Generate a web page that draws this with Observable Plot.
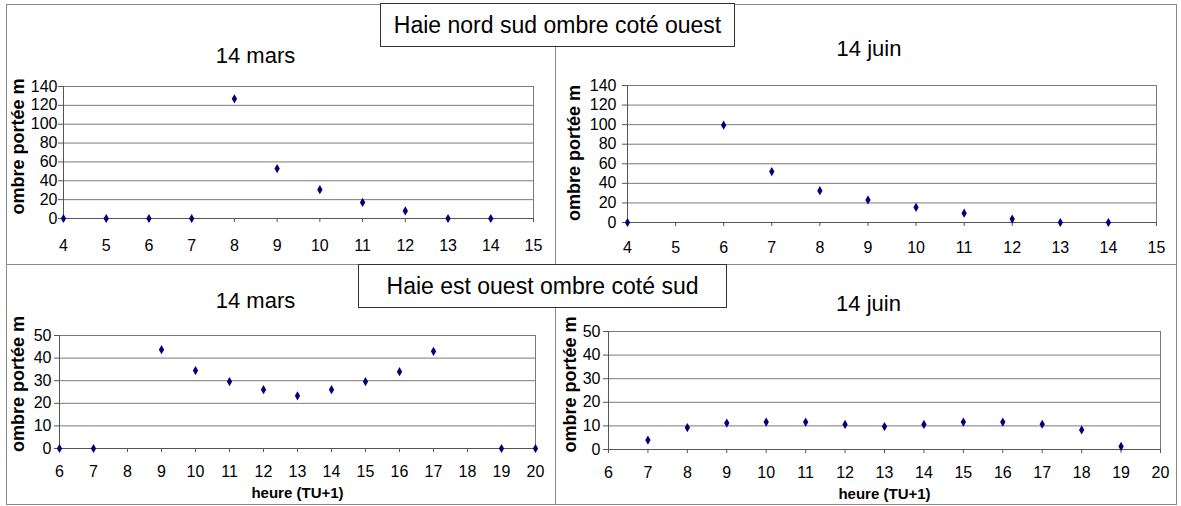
<!DOCTYPE html>
<html><head><meta charset="utf-8">
<script src="https://cdn.jsdelivr.net/npm/d3@7"></script>
<script src="https://cdn.jsdelivr.net/npm/@observablehq/plot@0.6"></script>
<style>
body{margin:0;background:#fff;}
#wrap{position:relative;width:1181px;height:506px;overflow:hidden;font-family:"Liberation Sans",Arial,sans-serif;background:#fff;}
.panel{position:absolute;}
.hline{position:absolute;height:1px;background:#8a8a8a;}
.vline{position:absolute;width:1px;background:#8a8a8a;}
.tbox{position:absolute;box-sizing:border-box;border:1px solid #333;background:#fff;font-size:23px;color:#000;display:flex;align-items:center;justify-content:center;white-space:nowrap;}
#wrap svg g[aria-label$="tick label"]{font-size:16px;}
</style></head>
<body><div id="wrap"></div>
<script>
// ---- data ----
const mainTitles = ["Haie nord sud ombre coté ouest", "Haie est ouest ombre coté sud"];
const panelTitles = ["14 mars", "14 juin", "14 mars", "14 juin"];
const yTitle = "ombre portée m";
const xTitle = "heure (TU+1)";

const hoursNSMars = [4, 5, 6, 7, 8, 9, 10, 11, 12, 13, 14];
const shadowNSMars = [0, 0, 0, 0, 127, 53, 30.5, 17, 8, 0, 0];
const hoursNSJuin = [4, 6, 7, 8, 9, 10, 11, 12, 13, 14];
const shadowNSJuin = [0, 99.5, 52, 32.5, 23, 15.5, 9.5, 3.5, 0, 0];
const hoursEOMars = [6, 7, 9, 10, 11, 12, 13, 14, 15, 16, 17, 19, 20];
const shadowEOMars = [0, 0, 43.7, 34.5, 29.6, 26, 23.3, 26, 29.6, 34, 43, 0, 0];
const hoursEOJuin = [7, 8, 9, 10, 11, 12, 13, 14, 15, 16, 17, 18, 19];
const shadowEOJuin = [4, 9.3, 11.2, 11.6, 11.6, 10.6, 9.7, 10.6, 11.6, 11.6, 10.7, 8.3, 1.3];

const xTicksNS = [4, 5, 6, 7, 8, 9, 10, 11, 12, 13, 14, 15];
const xTicksEO = [6, 7, 8, 9, 10, 11, 12, 13, 14, 15, 16, 17, 18, 19, 20];
const yTicksNS = [0, 20, 40, 60, 80, 100, 120, 140];
const yTicksEO = [0, 10, 20, 30, 40, 50];

const rows = (xs, ys) => xs.map((h, i) => ({h, v: ys[i]}));

const wrap = document.getElementById("wrap");
const FONT = '"Liberation Sans", Arial, sans-serif';

function panel(cfg) {
  const {left, top, width, height, mt, mr, mb, ml, xTicks, yTicks, data, title, titleDx, titleDy,
         yPad, xPad, yTitleDx, yTitleDy, showX} = cfg;
  const xd = [xTicks[0], xTicks[xTicks.length - 1]];
  const yd = [yTicks[0], yTicks[yTicks.length - 1]];
  const marks = [
    Plot.gridY(yTicks, {stroke: "#7a7a7a", strokeOpacity: 1}),
    Plot.ruleX([xd[1]], {stroke: "#7a7a7a"}),
    Plot.ruleX([xd[0]], {stroke: "#555"}),
    Plot.ruleY([0], {stroke: "#555"}),
    Plot.axisX(xTicks, {tickSize: 4, tickPadding: xPad, stroke: "#555", fill: "#000", fontSize: 16, label: null, tickFormat: d => String(d)}),
    Plot.axisY(yTicks, {tickSize: 5, tickPadding: yPad, stroke: "#555", fill: "#000", fontSize: 16, label: null, tickFormat: d => String(d)}),
    Plot.dot(data, {x: "h", y: "v", symbol: "diamond", r: 2.8, fill: "#00007a", stroke: null}),
    Plot.text([title], {frameAnchor: "top", lineAnchor: "middle", textAnchor: "middle", dx: titleDx, dy: titleDy, fontSize: 22, fill: "#000"}),
    Plot.text([yTitle], {frameAnchor: "left", textAnchor: "middle", lineAnchor: "middle", rotate: -90, dx: yTitleDx, dy: yTitleDy, fontSize: 18, fontWeight: "bold", fill: "#000"})
  ];
  if (showX) marks.push(Plot.text([xTitle], {frameAnchor: "bottom", lineAnchor: "middle", textAnchor: "middle", dy: 45, fontSize: 15, fontWeight: "bold", fill: "#000"}));
  const svg = Plot.plot({
    width, height, marginTop: mt, marginRight: mr, marginBottom: mb, marginLeft: ml,
    style: {fontFamily: FONT, fontSize: "16px", background: "transparent", overflow: "visible", color: "#000"},
    x: {domain: xd, axis: null},
    y: {domain: yd, axis: null},
    marks
  });
  const d = document.createElement("div");
  d.className = "panel";
  d.style.left = left + "px"; d.style.top = top + "px";
  d.appendChild(svg);
  wrap.appendChild(d);
}

// frame lines
function line(cls, l, t, len) {
  const e = document.createElement("div");
  e.className = cls; e.style.left = l + "px"; e.style.top = t + "px";
  if (cls === "hline") e.style.width = len + "px"; else e.style.height = len + "px";
  wrap.appendChild(e);
}
line("hline", 6, 4, 1171);
line("hline", 6, 264, 1171);
line("hline", 6, 504, 1171);
line("vline", 6, 4, 501);
line("vline", 555, 4, 501);
line("vline", 1176, 4, 501);

panel({left: 0, top: 0, width: 556, height: 264, mt: 86, mr: 23, mb: 46, ml: 63,
  xTicks: xTicksNS, yTicks: yTicksNS, data: rows(hoursNSMars, shadowNSMars),
  title: panelTitles[0], titleDx: -43, titleDy: -31, yPad: 1, xPad: 17, yTitleDx: -45, yTitleDy: -6});
panel({left: 556, top: 0, width: 625, height: 264, mt: 85, mr: 25, mb: 42, ml: 71,
  xTicks: xTicksNS, yTicks: yTicksNS, data: rows(hoursNSJuin, shadowNSJuin),
  title: panelTitles[1], titleDx: -23, titleDy: -37, yPad: 6, xPad: 15, yTitleDx: -53, yTitleDy: -1});
panel({left: 0, top: 264, width: 556, height: 242, mt: 71, mr: 21, mb: 58, ml: 59,
  xTicks: xTicksEO, yTicks: yTicksEO, data: rows(hoursEOMars, shadowEOMars),
  title: panelTitles[2], titleDx: -42, titleDy: -35, yPad: 3, xPad: 13, yTitleDx: -41, yTitleDy: -8, showX: true});
panel({left: 556, top: 264, width: 625, height: 242, mt: 67, mr: 21, mb: 57, ml: 52,
  xTicks: xTicksEO, yTicks: yTicksEO, data: rows(hoursEOJuin, shadowEOJuin),
  title: panelTitles[3], titleDx: -16, titleDy: -28, yPad: 3, xPad: 13, yTitleDx: -38, yTitleDy: -6, showX: true});

// boxed main titles
function tbox(text, l, t, w, h) {
  const e = document.createElement("div");
  e.className = "tbox"; e.textContent = text;
  e.style.left = l + "px"; e.style.top = t + "px"; e.style.width = w + "px"; e.style.height = h + "px";
  wrap.appendChild(e);
}
tbox(mainTitles[0], 380, 3, 355, 44);
tbox(mainTitles[1], 358, 264, 369, 44);
</script>
</body></html>
